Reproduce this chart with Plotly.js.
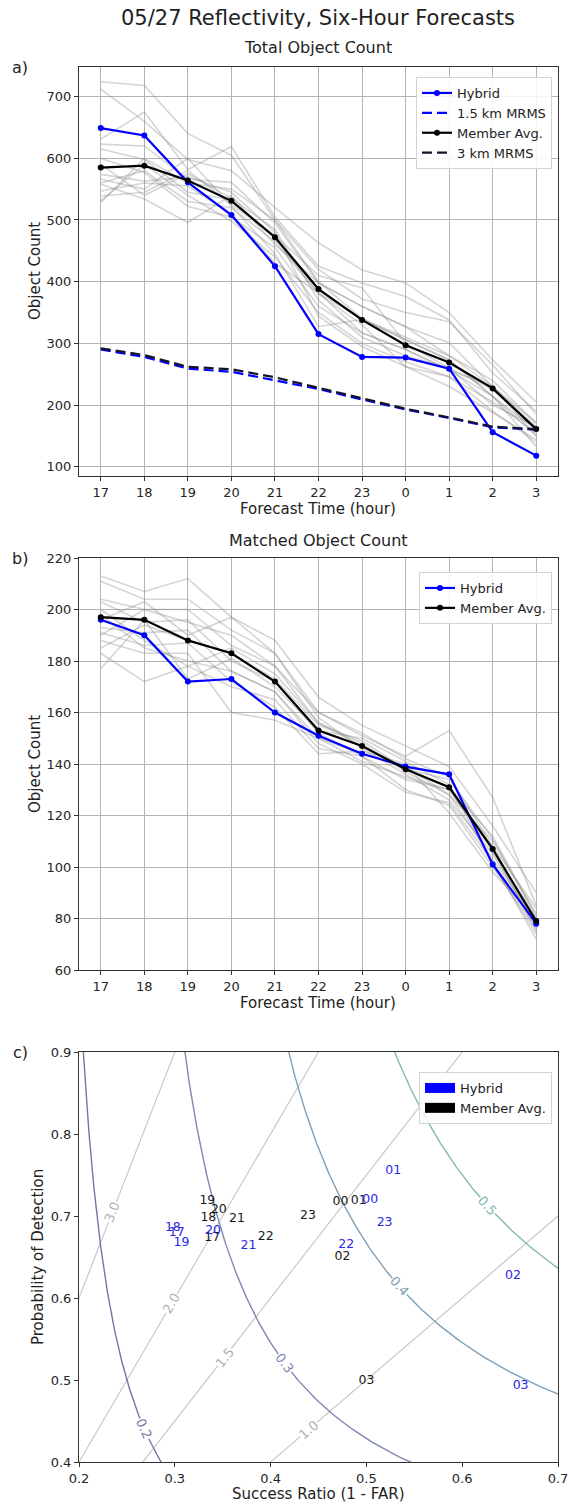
<!DOCTYPE html>
<html><head><meta charset="utf-8">
<script src="https://cdn.plot.ly/plotly-3.0.1.min.js"></script>
<style>html,body{margin:0;padding:0;background:#fff}</style>
</head><body><div id="chart" style="width:569px;height:1505px"></div>
<script>
// ---------------- DATA ----------------
const hours = ['17','18','19','20','21','22','23','0','1','2','3'];

// Panel a: Total Object Count
const totalHybrid = [649, 637, 561, 508, 425, 315, 278, 277, 259, 156, 118];
const totalMemberAvg = [585, 588, 564, 531, 472, 388, 338, 297, 269, 227, 161];
const totalMrms15 = [290, 278, 259, 254, 240, 226, 209, 193, 179, 164, 160];
const totalMrms3 = [292, 281, 262, 258, 245, 228, 210, 194, 180, 165, 161];
const totalMembers = [
  [724, 718, 640, 605, 500, 420, 372, 350, 335, 265, 185],
  [712, 660, 598, 580, 520, 463, 419, 398, 350, 273, 205],
  [631, 675, 582, 619, 505, 425, 398, 376, 338, 252, 190],
  [623, 620, 566, 561, 495, 398, 360, 327, 301, 230, 172],
  [615, 598, 545, 533, 470, 382, 339, 306, 273, 214, 160],
  [600, 577, 522, 505, 455, 360, 317, 290, 257, 230, 150],
  [574, 563, 570, 545, 480, 344, 295, 262, 230, 188, 144],
  [566, 550, 600, 522, 445, 327, 339, 306, 273, 214, 133],
  [558, 534, 496, 540, 460, 398, 360, 327, 280, 230, 165],
  [547, 560, 555, 510, 430, 382, 317, 290, 257, 214, 150],
  [539, 545, 580, 525, 475, 410, 390, 300, 260, 200, 165],
  [531, 590, 540, 498, 440, 350, 300, 270, 246, 190, 140],
  [528, 600, 560, 550, 500, 400, 340, 310, 280, 240, 170],
  [560, 580, 530, 520, 465, 380, 330, 262, 246, 205, 155],
  [590, 540, 575, 535, 485, 370, 310, 280, 260, 225, 160]
];

// Panel b: Matched Object Count
const matchedHybrid = [196, 190, 172, 173, 160, 151, 144, 139, 136, 101, 78];
const matchedMemberAvg = [197, 196, 188, 183, 172, 153, 147, 138, 131, 107, 79];
const matchedMembers = [
  [213, 207, 212, 197, 188, 166, 155, 147, 139, 116, 90],
  [211, 204, 204, 192, 183, 160, 151, 143, 153, 127, 85],
  [204, 200, 200, 186, 178, 156, 147, 138, 134, 111, 80],
  [203, 195, 196, 180, 172, 152, 143, 134, 130, 107, 75],
  [193, 191, 192, 176, 168, 148, 140, 129, 125, 102, 72],
  [191, 186, 187, 172, 162, 144, 145, 140, 121, 98, 80],
  [188, 183, 183, 160, 157, 150, 141, 135, 130, 106, 78],
  [183, 172, 178, 185, 175, 156, 148, 137, 128, 110, 82],
  [177, 196, 173, 181, 170, 153, 150, 141, 132, 101, 74],
  [196, 203, 190, 197, 183, 158, 146, 136, 126, 105, 77],
  [200, 188, 178, 170, 165, 146, 143, 130, 124, 100, 76],
  [190, 200, 195, 190, 178, 160, 152, 142, 135, 108, 84],
  [198, 185, 180, 176, 168, 150, 144, 139, 128, 103, 79],
  [185, 194, 188, 183, 173, 155, 149, 138, 131, 112, 81]
];

// Panel c: performance diagram
const pdLabels = ['17','18','19','20','21','22','23','00','01','02','03'];
const srHybrid  = [0.302, 0.298, 0.307, 0.340, 0.377, 0.479, 0.519, 0.504, 0.528, 0.653, 0.661];
const podHybrid = [0.679, 0.686, 0.667, 0.682, 0.663, 0.665, 0.692, 0.720, 0.755, 0.627, 0.493];
const srMember  = [0.339, 0.335, 0.334, 0.346, 0.365, 0.395, 0.439, 0.473, 0.492, 0.475, 0.500];
const podMember = [0.673, 0.698, 0.718, 0.708, 0.696, 0.674, 0.700, 0.717, 0.719, 0.650, 0.499];
const csiLevels = [0.2, 0.3, 0.4, 0.5];
const biasLevels = [1.0, 1.5, 2.0, 3.0];

// ---------------- LAYOUT HELPERS ----------------
const W = 569, H = 1505;
const FONT = 'DejaVu Sans, sans-serif';
const px = v => v / W;
const py = v => 1 - v / H;
const idx = hours.map((h, i) => i);
const BLUE = '#0000ff';

const csiColors = ['#7a72a6', '#7f86b2', '#7f9fb6', '#80b8b4'];
const biasColor = '#c4c4c4';

const traces = [];

// Panel a
totalMembers.forEach(m => traces.push({
  x: idx, y: m, xaxis: 'x', yaxis: 'y', mode: 'lines', showlegend: false, hoverinfo: 'skip',
  line: {color: 'rgba(135,135,135,0.35)', width: 1.6}
}));
traces.push({x: idx, y: totalHybrid, xaxis: 'x', yaxis: 'y', mode: 'lines+markers', name: 'Hybrid',
  legend: 'legend', line: {color: BLUE, width: 2.2}, marker: {color: BLUE, size: 6}});
traces.push({x: idx, y: totalMrms15, xaxis: 'x', yaxis: 'y', mode: 'lines', name: '1.5 km MRMS',
  legend: 'legend', line: {color: BLUE, width: 2.2, dash: '10px,5px'}});
traces.push({x: idx, y: totalMemberAvg, xaxis: 'x', yaxis: 'y', mode: 'lines+markers', name: 'Member Avg.',
  legend: 'legend', line: {color: '#000', width: 2.2}, marker: {color: '#000', size: 6}});
traces.push({x: idx, y: totalMrms3, xaxis: 'x', yaxis: 'y', mode: 'lines', name: '3 km MRMS',
  legend: 'legend', line: {color: '#141428', width: 2.2, dash: '10px,5px'}});

// Panel b
matchedMembers.forEach(m => traces.push({
  x: idx, y: m, xaxis: 'x2', yaxis: 'y2', mode: 'lines', showlegend: false, hoverinfo: 'skip',
  line: {color: 'rgba(135,135,135,0.35)', width: 1.6}
}));
traces.push({x: idx, y: matchedHybrid, xaxis: 'x2', yaxis: 'y2', mode: 'lines+markers', name: 'Hybrid',
  legend: 'legend2', line: {color: BLUE, width: 2.2}, marker: {color: BLUE, size: 6}});
traces.push({x: idx, y: matchedMemberAvg, xaxis: 'x2', yaxis: 'y2', mode: 'lines+markers', name: 'Member Avg.',
  legend: 'legend2', line: {color: '#000', width: 2.2}, marker: {color: '#000', size: 6}});

// Panel c: bias lines
biasLevels.forEach(b => traces.push({
  x: [0, 1], y: [0, b], xaxis: 'x3', yaxis: 'y3', mode: 'lines', showlegend: false, hoverinfo: 'skip',
  line: {color: biasColor, width: 1.1}
}));
// CSI contours
csiLevels.forEach((c, k) => {
  const xs = [], ys = [];
  for (let p = 0.36; p <= 0.95; p += 0.002) {
    const d = 1 / c + 1 - 1 / p;
    if (d > 0) { xs.push(1 / d); ys.push(p); }
  }
  traces.push({x: xs, y: ys, xaxis: 'x3', yaxis: 'y3', mode: 'lines', showlegend: false, hoverinfo: 'skip',
    line: {color: csiColors[k], width: 1.4}});
});
traces.push({x: srMember, y: podMember, text: pdLabels, xaxis: 'x3', yaxis: 'y3', mode: 'text',
  showlegend: false, cliponaxis: false, textfont: {family: FONT, size: 12.5, color: '#1a1a1a'}});
traces.push({x: srHybrid, y: podHybrid, text: pdLabels, xaxis: 'x3', yaxis: 'y3', mode: 'text',
  showlegend: false, cliponaxis: false, textfont: {family: FONT, size: 12.5, color: '#2828e8'}});
traces.push({x: [null], y: [null], xaxis: 'x3', yaxis: 'y3', mode: 'lines', name: 'Hybrid',
  legend: 'legend3', line: {color: BLUE, width: 10}});
traces.push({x: [null], y: [null], xaxis: 'x3', yaxis: 'y3', mode: 'lines', name: 'Member Avg.',
  legend: 'legend3', line: {color: '#000', width: 10}});

// ---------------- AXES ----------------
const xDom = [px(79), px(558)];
const tickFont = {family: FONT, size: 13, color: '#262626'};
function baseAxis(extra) {
  return Object.assign({
    showline: true, linecolor: '#333', linewidth: 1, mirror: true,
    ticks: 'outside', ticklen: 4, tickcolor: '#333', tickfont: tickFont,
    zeroline: false, showgrid: true, gridcolor: '#b4b4b4', gridwidth: 1
  }, extra);
}
const catAxis = (anchor, dom) => baseAxis({domain: dom, anchor: anchor, range: [-0.5, 10.5],
  tickmode: 'array', tickvals: idx, ticktext: hours});

const legendBase = {
  bgcolor: 'rgba(255,255,255,0.85)', bordercolor: '#d4d4d4', borderwidth: 1,
  font: {family: FONT, size: 13, color: '#222'}, xanchor: 'right', yanchor: 'top',
  tracegroupgap: 0, itemwidth: 30
};

const ann = [];
function addText(text, x, y, size, extra) {
  ann.push(Object.assign({text: text, xref: 'paper', yref: 'paper', x: px(x), y: py(y),
    showarrow: false, xanchor: 'center', yanchor: 'middle',
    font: {family: FONT, size: size, color: '#222'}}, extra || {}));
}
addText('05/27 Reflectivity, Six-Hour Forecasts', 318, 18, 21);
addText('Total Object Count', 318, 47, 16);
addText('Matched Object Count', 318, 540, 16);
addText('a)', 20, 67, 16);
addText('b)', 20, 558, 16);
addText('c)', 20, 1052, 16);
addText('Forecast Time (hour)', 318, 509, 15);
addText('Forecast Time (hour)', 318, 1003, 15);
addText('Success Ratio (1 - FAR)', 318, 1494, 15);
addText('Object Count', 35, 271, 15, {textangle: -90});
addText('Object Count', 35, 764, 15, {textangle: -90});
addText('Probability of Detection', 38, 1257, 15, {textangle: -90});

// contour labels (panel c)
function addCLabel(text, x, y, angle, color) {
  ann.push({text: text, xref: 'x3', yref: 'y3', x: x, y: y, showarrow: false, textangle: angle,
    bgcolor: '#ffffff', borderpad: 0, font: {family: FONT, size: 13, color: color}});
}
addCLabel('0.2', 0.268, 0.441, 66.5, csiColors[0]);
addCLabel('0.3', 0.415, 0.520, 53, csiColors[1]);
addCLabel('0.4', 0.535, 0.614, 48.4, csiColors[2]);
addCLabel('0.5', 0.626, 0.713, 48, csiColors[3]);
addCLabel('1.0', 0.44, 0.44, -40.6, '#b0b0b0');
addCLabel('1.5', 0.352, 0.528, -52, '#b0b0b0');
addCLabel('2.0', 0.297, 0.594, -59.7, '#b0b0b0');
addCLabel('3.0', 0.235, 0.705, -68.7, '#b0b0b0');

const layout = {
  width: W, height: H, margin: {l: 0, r: 0, t: 0, b: 0},
  paper_bgcolor: '#fff', plot_bgcolor: '#fff', font: {family: FONT, color: '#222'},
  xaxis: catAxis('y', xDom),
  yaxis: baseAxis({domain: [py(476), py(67)], anchor: 'x', range: [85, 748], tickvals: [100,200,300,400,500,600,700]}),
  xaxis2: catAxis('y2', xDom),
  yaxis2: baseAxis({domain: [py(970), py(558)], anchor: 'x2', range: [60, 220], dtick: 20, tick0: 60}),
  xaxis3: baseAxis({domain: xDom, anchor: 'y3', range: [0.2, 0.7], dtick: 0.1, tick0: 0.2, tickformat: '.1f', showgrid: false}),
  yaxis3: baseAxis({domain: [py(1462), py(1052)], anchor: 'x3', range: [0.4, 0.9], dtick: 0.1, tick0: 0.4, tickformat: '.1f', showgrid: false}),
  legend: Object.assign({}, legendBase, {x: px(552), y: py(77)}),
  legend2: Object.assign({}, legendBase, {x: px(552), y: py(572)}),
  legend3: Object.assign({}, legendBase, {x: px(552), y: py(1072)}),
  annotations: ann,
  showlegend: true
};

Plotly.newPlot('chart', traces, layout, {staticPlot: true, displayModeBar: false});
</script>
</body></html>
